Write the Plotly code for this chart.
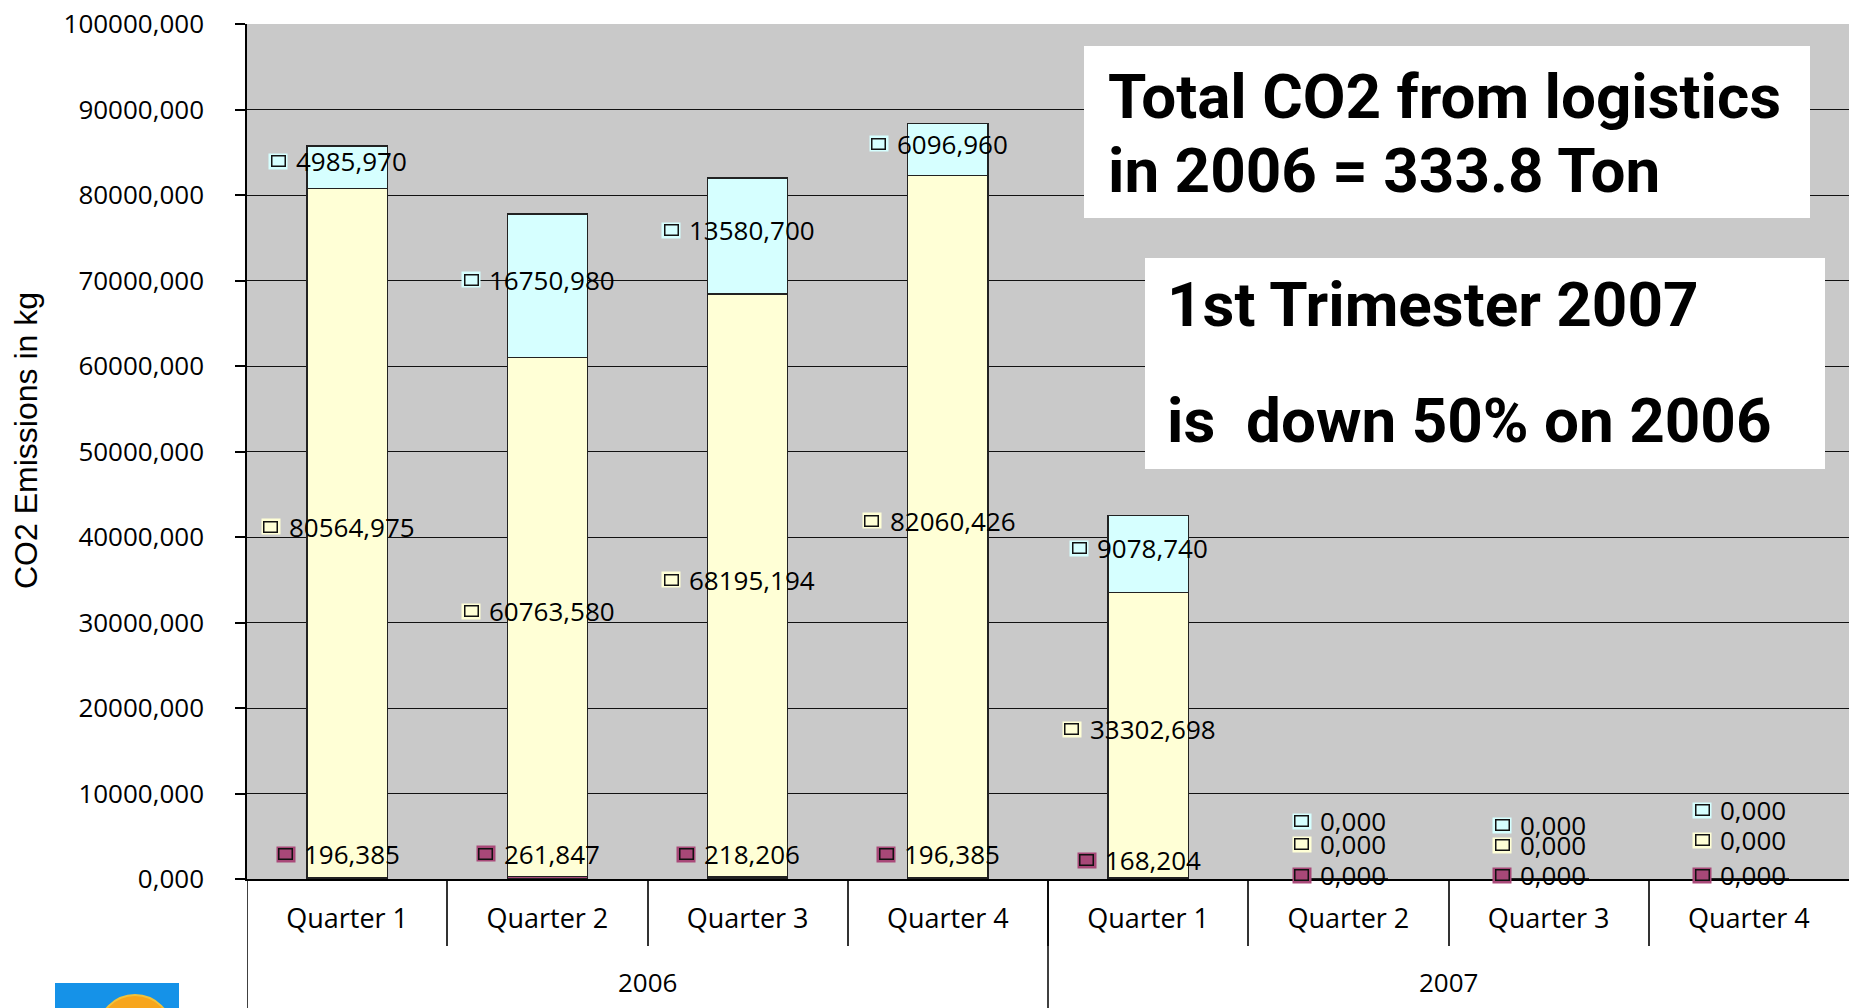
import plotly.graph_objects as go

# ---------------- data ----------------
years = ["2006", "2006", "2006", "2006", "2007", "2007", "2007", "2007"]
quarters = ["Quarter 1", "Quarter 2", "Quarter 3", "Quarter 4",
            "Quarter 1", "Quarter 2", "Quarter 3", "Quarter 4"]
purple_vals = [196.385, 261.847, 218.206, 196.385, 168.204, 0.0, 0.0, 0.0]
yellow_vals = [80564.975, 60763.580, 68195.194, 82060.426, 33302.698, 0.0, 0.0, 0.0]
cyan_vals = [4985.970, 16750.980, 13580.700, 6096.960, 9078.740, 0.0, 0.0, 0.0]
y_tick_vals = [0, 10000, 20000, 30000, 40000, 50000, 60000, 70000, 80000, 90000, 100000]
y_tick_text = ["0,000", "10000,000", "20000,000", "30000,000", "40000,000", "50000,000",
               "60000,000", "70000,000", "80000,000", "90000,000", "100000,000"]
y_title = "CO2 Emissions in kg"
box1_lines = ["Total CO2 from logistics", "in 2006 = 333.8 Ton"]
box2_lines = ["1st Trimester 2007", "is\u00a0 down 50% on 2006"]

# ---------------- styles ----------------
C_PURPLE = "#A84878"
C_YELLOW = "#FFFFD6"
C_CYAN = "#D6FFFF"
BG = "#C9C9C9"
FONT = "Open Sans, Liberation Sans, sans-serif"
BIG = "Roboto, Liberation Sans, sans-serif"
FS = 26
purple_shift = [24, 24, 24, 24, 18, 4, 4, 4]
yellow_shift = [6, 6, 6, 6, 6, 35, 34, 39]
cyan_shift = [6, 6, 6, 6, 6, 58, 54, 69]

L, R, T, B = 247, 0, 24, 129
W, H = 1849, 1008
plot_w = W - L - R
plot_h = H - T - B

n = len(quarters)
pos = list(range(n))

fig = go.Figure()
for vals, col in [(purple_vals, C_PURPLE), (yellow_vals, C_YELLOW), (cyan_vals, C_CYAN)]:
    fig.add_trace(go.Bar(x=pos, y=vals, marker=dict(color=col, line=dict(color="#222222", width=1.3)),
                         showlegend=False, hoverinfo="skip"))


def fmt(v):
    return f"{v:.3f}".replace(".", ",")


def text_w(s, fs):
    return sum((0.572 if c.isdigit() else 0.26) for c in s) * fs


annotations = []
KW, KH, GAP, XOFF = 14, 11, 9, -9
series = [(purple_vals, C_PURPLE, purple_shift),
          (yellow_vals, C_YELLOW, yellow_shift),
          (cyan_vals, C_CYAN, cyan_shift)]
for si, (vals, col, shifts) in enumerate(series):
    for i, v in enumerate(vals):
        base = 0.0
        if si >= 1:
            base += purple_vals[i]
        if si >= 2:
            base += yellow_vals[i]
        yc = base + v / 2.0
        label = fmt(v)
        tw = text_w(label, FS)
        total = KW + GAP + tw
        left = XOFF - total / 2.0
        annotations.append(dict(x=pos[i], y=yc, xref="x", yref="y", text=" ", showarrow=False,
                                width=KW + 4, height=KH + 4, bgcolor=col, borderpad=0,
                                xanchor="center", yanchor="middle",
                                xshift=left + KW / 2.0, yshift=shifts[i], font=dict(size=6)))
        annotations.append(dict(x=pos[i], y=yc, xref="x", yref="y", text=" ", showarrow=False,
                                width=KW - 2, height=KH - 2, bgcolor=col, bordercolor="#111111",
                                borderwidth=1.5, borderpad=0,
                                xanchor="center", yanchor="middle",
                                xshift=left + KW / 2.0, yshift=shifts[i], font=dict(size=6)))
        annotations.append(dict(x=pos[i], y=yc, xref="x", yref="y", text=label, showarrow=False,
                                xanchor="left", yanchor="middle",
                                xshift=left + KW + GAP, yshift=shifts[i],
                                font=dict(family=FONT, size=FS, color="black")))


def px2paper_x(px):
    return (px - L) / plot_w


def px2paper_y(py):
    return (H - B - py) / plot_h


shapes = []
for (x0, y0, x1, y1) in [(1084, 46, 1810, 218), (1145, 258, 1825, 469)]:
    shapes.append(dict(type="rect", xref="paper", yref="paper",
                       x0=px2paper_x(x0), x1=px2paper_x(x1), y0=px2paper_y(y1), y1=px2paper_y(y0),
                       fillcolor="white", line=dict(width=0), layer="above"))

# year groups: labels centred under their quarters, dividers at group boundaries
groups = []
for i, yv in enumerate(years):
    if not groups or groups[-1][0] != yv:
        groups.append([yv, i, i])
    else:
        groups[-1][2] = i
for yv, i0, i1 in groups:
    annotations.append(dict(x=(pos[i0] + pos[i1]) / 2.0, y=px2paper_y(982), xref="x", yref="paper",
                            text=yv, showarrow=False, xanchor="center", yanchor="middle",
                            font=dict(family=FONT, size=FS, color="black")))
    shapes.append(dict(type="line", xref="x", yref="paper", x0=pos[i0] - 0.5, x1=pos[i0] - 0.5,
                       y0=0, y1=px2paper_y(H + 5), line=dict(color="black", width=1.5), layer="above"))

# logo fragment at bottom left
shapes.append(dict(type="rect", xref="paper", yref="paper",
                   x0=px2paper_x(55), x1=px2paper_x(179), y0=px2paper_y(1020), y1=px2paper_y(983),
                   fillcolor="#1592E8", line=dict(width=0), layer="above"))
shapes.append(dict(type="circle", xref="paper", yref="paper",
                   x0=px2paper_x(98), x1=px2paper_x(172), y0=px2paper_y(1069), y1=px2paper_y(995),
                   fillcolor="#F7A51C", line=dict(color="#F2C23A", width=2), layer="above"))

for txt, xp, yp in [(box1_lines[0], 1106, 96), (box1_lines[1], 1106, 170),
                    (box2_lines[0], 1165, 305), (box2_lines[1], 1165, 420)]:
    annotations.append(dict(x=px2paper_x(xp), y=px2paper_y(yp), xref="paper", yref="paper",
                            text="<b>" + txt + "</b>", showarrow=False, xanchor="left", yanchor="middle",
                            font=dict(family=BIG, size=62, color="black")))

# y-axis title
annotations.append(dict(x=px2paper_x(26), y=px2paper_y(441), xref="paper", yref="paper",
                        text=y_title, textangle=-90, showarrow=False, xanchor="center", yanchor="middle",
                        font=dict(family="Liberation Sans, Arial, sans-serif", size=32, color="black")))

fig.update_layout(
    width=W, height=H, autosize=False,
    margin=dict(l=L, r=R, t=T, b=B, pad=0),
    paper_bgcolor="white", plot_bgcolor=BG,
    barmode="stack", bargap=0.6,
    showlegend=False,
    annotations=annotations, shapes=shapes,
    xaxis=dict(range=[pos[0] - 0.5, pos[-1] + 0.5], tickmode="array", tickvals=pos, ticktext=quarters,
               ticks="", showgrid=False, zeroline=False,
               minor=dict(tickmode="array", tickvals=[p - 0.5 for p in pos[1:]], ticks="outside",
                          ticklen=65, tickcolor="#333333", tickwidth=1.5, showgrid=False),
               tickfont=dict(family=FONT, size=27, color="black"),
               showline=True, linecolor="black", linewidth=1.5, ticklabelstandoff=15),
    yaxis=dict(range=[0, 100000], tickvals=y_tick_vals, ticktext=y_tick_text,
               showgrid=True, gridcolor="#111111", gridwidth=1,
               ticks="outside", ticklen=10, tickcolor="black", tickwidth=1.5,
               showline=True, linecolor="black", linewidth=1.5, zeroline=False,
               tickfont=dict(family=FONT, size=FS, color="black"), ticklabelstandoff=26),
)

fig.write_html("out.html", config={"displayModeBar": False},
               post_script="document.body.style.margin='0';document.body.style.overflow='hidden';")
